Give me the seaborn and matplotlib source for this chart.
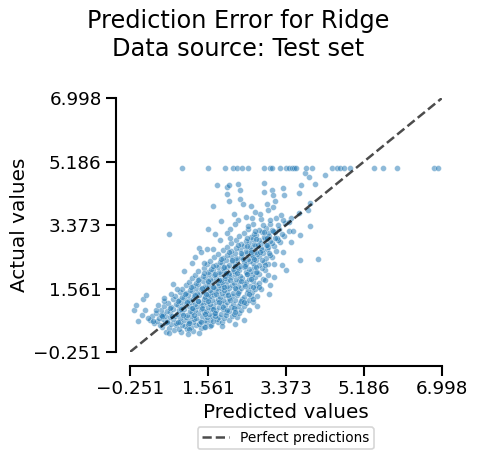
import numpy as np
import pandas as pd
import matplotlib
matplotlib.use("Agg")
import matplotlib.pyplot as plt
import seaborn as sns
from matplotlib.ticker import FuncFormatter

# range of predicted / actual values (axis ticks run between these)
value_range = [-0.2512, 6.9978]

# targets capped at 5.0 (top row of points)
cap_pred = [0.95, 1.57, 1.96, 2.14, 2.23, 2.35, 2.50, 2.87, 3.01, 3.04, 3.24, 3.38,
            3.45, 3.51, 3.56, 3.62, 3.84, 3.99, 4.44, 4.56, 4.63, 4.73, 4.86, 5.42,
            5.64, 5.95, 6.82, 6.92]
cap_actual = [5.0] * len(cap_pred)

# dense band along the diagonal, read row by row
core_pred = [
    0.58, 0.77, 0.93, 1.07, 1.22, 1.41,
    0.49, 0.66, 0.81, 0.88, 1.02, 1.16, 1.28, 1.47, 1.62,
    0.31, 0.44, 0.57, 0.71, 0.83, 0.97, 1.09, 1.21, 1.36, 1.52, 1.64, 1.79,
    0.22, 0.38, 0.51, 0.62, 0.74, 0.91, 1.01, 1.12, 1.24, 1.37, 1.49, 1.61, 1.77, 1.88, 2.06,
    0.27, 0.43, 0.56, 0.67, 0.79, 0.92, 1.04, 1.16, 1.29, 1.42, 1.54, 1.66, 1.81, 1.94, 2.11, 2.24,
    0.36, 0.52, 0.69, 0.84, 0.96, 1.08, 1.19, 1.34, 1.46, 1.58, 1.71, 1.86, 1.99, 2.16, 2.29,
    0.46, 0.61, 0.76, 0.89, 1.01, 1.14, 1.26, 1.39, 1.51, 1.63, 1.76, 1.91, 2.04, 2.19, 2.33, 2.52,
    0.54, 0.71, 0.86, 0.99, 1.11, 1.21, 1.31, 1.44, 1.56, 1.69, 1.81, 1.96, 2.09, 2.26, 2.41,
    0.64, 0.81, 0.94, 1.06, 1.16, 1.26, 1.39, 1.51, 1.61, 1.74, 1.86, 2.01, 2.14, 2.31, 2.44, 2.61,
    0.76, 0.89, 1.01, 1.11, 1.21, 1.34, 1.46, 1.56, 1.66, 1.79, 1.91, 2.06, 2.19, 2.36, 2.51,
    0.79, 0.96, 1.09, 1.24, 1.36, 1.49, 1.61, 1.71, 1.84, 1.96, 2.11, 2.24, 2.39, 2.56, 2.71,
    0.91, 1.04, 1.19, 1.31, 1.44, 1.56, 1.66, 1.79, 1.89, 2.01, 2.14, 2.29, 2.46, 2.59,
    0.96, 1.14, 1.29, 1.41, 1.51, 1.61, 1.74, 1.86, 1.94, 2.06, 2.21, 2.34, 2.49, 2.66, 2.79,
    1.04, 1.21, 1.34, 1.49, 1.59, 1.71, 1.81, 1.91, 2.01, 2.11, 2.26, 2.41, 2.54, 2.69,
    1.11, 1.29, 1.44, 1.56, 1.66, 1.79, 1.89, 2.01, 2.16, 2.29, 2.44, 2.61, 2.76,
    1.19, 1.36, 1.49, 1.61, 1.74, 1.86, 1.96, 2.09, 2.21, 2.36, 2.51, 2.66, 2.84,
    1.26, 1.44, 1.59, 1.71, 1.84, 1.96, 2.06, 2.19, 2.31, 2.46, 2.59, 2.76,
    1.34, 1.56, 1.69, 1.81, 1.94, 2.04, 2.16, 2.29, 2.44, 2.56, 2.71, 2.89,
    1.46, 1.64, 1.79, 1.91, 2.01, 2.14, 2.26, 2.39, 2.51, 2.64, 2.81,
    1.54, 1.76, 1.89, 2.04, 2.19, 2.31, 2.44, 2.61, 2.74, 2.96,
    1.61, 1.84, 1.99, 2.11, 2.24, 2.41, 2.54, 2.69, 2.86,
    1.71, 1.91, 2.09, 2.21, 2.34, 2.49, 2.61, 2.76, 2.91, 3.04,
    1.79, 2.01, 2.19, 2.36, 2.46, 2.59, 2.71, 2.84, 3.01,
    1.91, 2.09, 2.31, 2.44, 2.56, 2.69, 2.81, 2.94, 3.14,
    2.01, 2.21, 2.39, 2.54, 2.66, 2.79, 2.96, 3.09,
    2.09, 2.34, 2.51, 2.64, 2.79, 2.91, 3.06, 3.24,
    2.21, 2.44, 2.61, 2.74, 2.89, 3.01, 3.19,
    2.29, 2.56, 2.69, 2.86, 2.99, 3.16, 3.34,
    2.41, 2.64, 2.81, 2.96, 3.11, 3.29,
    2.49, 2.76, 2.91, 3.04, 3.21, 3.44,
    2.61, 2.84, 3.01, 3.19, 3.36,
    2.79, 3.01, 3.14, 3.31, 3.49,
]
core_actual = [
    0.33, 0.38, 0.31, 0.40, 0.36, 0.43,
    0.47, 0.44, 0.51, 0.42, 0.48, 0.45, 0.52, 0.46, 0.49,
    0.57, 0.53, 0.59, 0.54, 0.58, 0.52, 0.56, 0.61, 0.55, 0.58, 0.53, 0.60,
    0.66, 0.63, 0.68, 0.64, 0.69, 0.62, 0.67, 0.64, 0.70, 0.63, 0.67, 0.65, 0.68, 0.62, 0.66,
    0.77, 0.73, 0.78, 0.74, 0.79, 0.72, 0.76, 0.79, 0.73, 0.77, 0.74, 0.79, 0.75, 0.72, 0.78, 0.74,
    0.86, 0.83, 0.88, 0.84, 0.87, 0.82, 0.88, 0.85, 0.89, 0.83, 0.87, 0.84, 0.88, 0.83, 0.86,
    0.96, 0.93, 0.98, 0.94, 0.97, 0.92, 0.96, 0.99, 0.93, 0.97, 0.94, 0.98, 0.93, 0.97, 0.94, 0.96,
    1.06, 1.03, 1.08, 1.04, 1.07, 1.02, 1.06, 1.09, 1.03, 1.07, 1.04, 1.08, 1.03, 1.07, 1.05,
    1.16, 1.13, 1.18, 1.14, 1.17, 1.12, 1.16, 1.19, 1.13, 1.17, 1.14, 1.18, 1.13, 1.16, 1.14, 1.17,
    1.26, 1.23, 1.28, 1.24, 1.27, 1.22, 1.26, 1.29, 1.23, 1.27, 1.24, 1.28, 1.23, 1.26, 1.24,
    1.36, 1.33, 1.38, 1.34, 1.37, 1.32, 1.36, 1.39, 1.33, 1.37, 1.34, 1.38, 1.33, 1.36, 1.34,
    1.46, 1.43, 1.48, 1.44, 1.47, 1.42, 1.46, 1.49, 1.43, 1.47, 1.44, 1.48, 1.43, 1.46,
    1.56, 1.53, 1.58, 1.54, 1.57, 1.52, 1.56, 1.59, 1.53, 1.57, 1.54, 1.58, 1.53, 1.56, 1.54,
    1.66, 1.63, 1.68, 1.64, 1.67, 1.62, 1.66, 1.69, 1.63, 1.67, 1.64, 1.68, 1.63, 1.66,
    1.76, 1.73, 1.78, 1.74, 1.77, 1.72, 1.76, 1.79, 1.73, 1.77, 1.74, 1.78, 1.73,
    1.86, 1.83, 1.88, 1.84, 1.87, 1.82, 1.86, 1.89, 1.83, 1.87, 1.84, 1.88, 1.83,
    1.96, 1.93, 1.98, 1.94, 1.97, 1.92, 1.96, 1.99, 1.93, 1.97, 1.94, 1.98,
    2.06, 2.03, 2.08, 2.04, 2.07, 2.02, 2.06, 2.09, 2.03, 2.07, 2.04, 2.08,
    2.16, 2.13, 2.18, 2.14, 2.17, 2.12, 2.16, 2.19, 2.13, 2.17, 2.14,
    2.26, 2.23, 2.28, 2.24, 2.27, 2.22, 2.26, 2.29, 2.23, 2.27,
    2.36, 2.33, 2.38, 2.34, 2.37, 2.32, 2.36, 2.39, 2.33,
    2.46, 2.43, 2.48, 2.44, 2.47, 2.42, 2.46, 2.49, 2.43, 2.47,
    2.56, 2.53, 2.58, 2.54, 2.57, 2.52, 2.56, 2.59, 2.53,
    2.66, 2.63, 2.68, 2.64, 2.67, 2.62, 2.66, 2.69, 2.63,
    2.76, 2.73, 2.78, 2.74, 2.77, 2.72, 2.76, 2.79,
    2.86, 2.83, 2.88, 2.84, 2.87, 2.82, 2.86, 2.89,
    2.96, 2.93, 2.98, 2.94, 2.97, 2.92, 2.96,
    3.06, 3.03, 3.08, 3.04, 3.07, 3.02, 3.06,
    3.16, 3.13, 3.18, 3.14, 3.17, 3.12,
    3.26, 3.23, 3.28, 3.24, 3.27, 3.22,
    3.42, 3.37, 3.41, 3.38, 3.43,
    3.56, 3.52, 3.57, 3.53, 3.58,
]

# extra points filling the middle of the band
fill_pred = [
    0.62, 0.87, 1.13, 1.41, 1.68,
    0.48, 0.73, 0.98, 1.23, 1.49, 1.72, 1.98,
    0.68, 0.93, 1.18, 1.43, 1.67, 1.92, 2.17,
    0.87, 1.08, 1.32, 1.57, 1.82, 2.07, 2.33,
    1.02, 1.27, 1.52, 1.76, 2.02, 2.27, 2.52,
    1.17, 1.43, 1.68, 1.93, 2.18, 2.43, 2.62,
    1.32, 1.57, 1.82, 2.07, 2.32, 2.57,
    1.48, 1.73, 1.98, 2.23, 2.48, 2.68,
    1.68, 1.93, 2.18, 2.42, 2.67, 2.88,
    1.87, 2.13, 2.38, 2.63, 2.83,
    2.06, 2.32, 2.57, 2.78, 2.98,
    2.26, 2.48, 2.72, 2.93,
    2.47, 2.68, 2.93, 3.12,
    2.66, 2.87, 3.08,
]
fill_actual = [
    0.60, 0.62, 0.59, 0.61, 0.63,
    0.81, 0.79, 0.82, 0.80, 0.83, 0.78, 0.81,
    1.01, 0.99, 1.02, 1.00, 0.98, 1.03, 1.01,
    1.21, 1.19, 1.22, 1.20, 1.18, 1.23, 1.21,
    1.41, 1.39, 1.42, 1.40, 1.38, 1.43, 1.41,
    1.61, 1.59, 1.62, 1.60, 1.58, 1.63, 1.61,
    1.81, 1.79, 1.82, 1.80, 1.78, 1.83,
    2.01, 1.99, 2.02, 2.00, 1.98, 2.03,
    2.21, 2.19, 2.22, 2.20, 2.18, 2.23,
    2.41, 2.39, 2.42, 2.40, 2.38,
    2.61, 2.59, 2.62, 2.60, 2.58,
    2.81, 2.79, 2.82, 2.80,
    3.01, 2.99, 3.02, 3.00,
    3.21, 3.19, 3.22,
]

# scattered points away from the band
spread_pred = [1.77, 2.00, 2.06, 2.27, 2.31, 2.01, 2.05, 2.31, 2.37, 1.67, 2.56, 2.87,
               2.87, 3.06, 3.08, 3.31, 3.33, 3.12, 3.07, 2.94, 3.67, 3.82, 3.92, 4.05,
               4.29, 3.73, 3.94, 3.90, 3.69, 3.94, 3.70, 4.11, 3.71, 3.37, 3.28, 3.09,
               2.99, 3.00, 2.90, 2.41, 1.57, 1.73, 1.87, 2.08, 2.08, 2.17, 2.27, 2.50,
               2.58, 2.77, 0.66, 1.35, 1.20, 1.53, 1.67, 1.48, 0.76, 0.70, 0.55, 0.04,
               0.11, -0.15, -0.10, 0.10, 0.02, -0.06, 0.16, 0.28, 0.35, 0.49, 0.66, 1.11,
               1.50, 1.73, 2.00, 2.19, 2.41,
               0.85, 1.00, 1.25, 1.40, 1.85, 2.00, 2.20, 2.45, 2.65, 2.95, 3.25, 3.45,
               3.55, 3.50, 3.30, 3.10, 2.95, 2.75, 2.60, 2.70, 1.10, 1.35, 0.55, 0.40,
               1.90, 2.20]
spread_actual = [4.52, 4.45, 4.52, 4.56, 4.37, 4.25, 4.06, 4.13, 3.99, 3.93, 3.93, 4.59,
                 4.32, 4.39, 4.23, 4.43, 4.23, 4.07, 3.90, 3.97, 4.28, 4.85, 4.74, 4.56,
                 4.82, 4.53, 4.02, 3.82, 3.71, 3.36, 3.09, 2.42, 2.39, 2.08, 2.23, 1.89,
                 1.42, 1.66, 1.82, 0.67, 3.26, 3.13, 3.50, 3.26, 3.01, 3.70, 3.51, 3.35,
                 3.59, 3.70, 3.11, 2.73, 2.29, 2.68, 2.68, 2.28, 1.70, 1.40, 1.21, 1.26,
                 1.37, 0.96, 1.08, 0.96, 0.82, 0.63, 0.73, 0.64, 0.94, 0.79, 0.30, 0.42,
                 0.45, 0.85, 0.94, 0.89, 1.18,
                 1.55, 2.05, 2.45, 2.60, 2.95, 3.15, 3.40, 3.60, 3.75, 3.80, 3.65, 3.45,
                 3.20, 2.90, 2.60, 2.25, 1.95, 1.60, 1.25, 1.05, 0.25, 0.30, 1.30, 1.10,
                 0.50, 0.55]

df = pd.DataFrame({
    "Predicted values": core_pred + fill_pred + spread_pred + cap_pred,
    "Actual values": core_actual + fill_actual + spread_actual + cap_actual,
})

sns.set_theme(context="talk", style="ticks",
              rc={"text.color": "black", "axes.labelcolor": "black",
                  "axes.edgecolor": "black", "xtick.color": "black",
                  "ytick.color": "black"})

fig = plt.figure(figsize=(477 / 80, 463 / 80), dpi=80)
ax = fig.add_axes([0.2725, 0.2397, 0.6535, 0.548])

sns.scatterplot(data=df, x="Predicted values", y="Actual values", color="tab:blue",
                alpha=0.5, s=28, edgecolor="white", linewidth=0.5, ax=ax)
ax.plot(value_range, value_range, color="black", alpha=0.7, linestyle="--",
        label="Perfect predictions")

ticks = np.linspace(value_range[0], value_range[1], 5)
fmt = FuncFormatter(lambda v, _: f"{v:.3f}".replace("-", "\u2212"))
ax.set_xticks(ticks)
ax.set_yticks(ticks)
ax.xaxis.set_major_formatter(fmt)
ax.yaxis.set_major_formatter(fmt)
ax.set_xlim(value_range)
ax.set_ylim(value_range)
sns.despine(ax=ax, offset=13)

ax.legend(loc="upper center", bbox_to_anchor=(0.599, 0.0777), bbox_transform=fig.transFigure,
          fontsize=12.4, handlelength=2.0, borderpad=0.3, borderaxespad=0)
fig.suptitle("Prediction Error for Ridge\nData source: Test set")

fig.savefig("out.png", dpi=80)
